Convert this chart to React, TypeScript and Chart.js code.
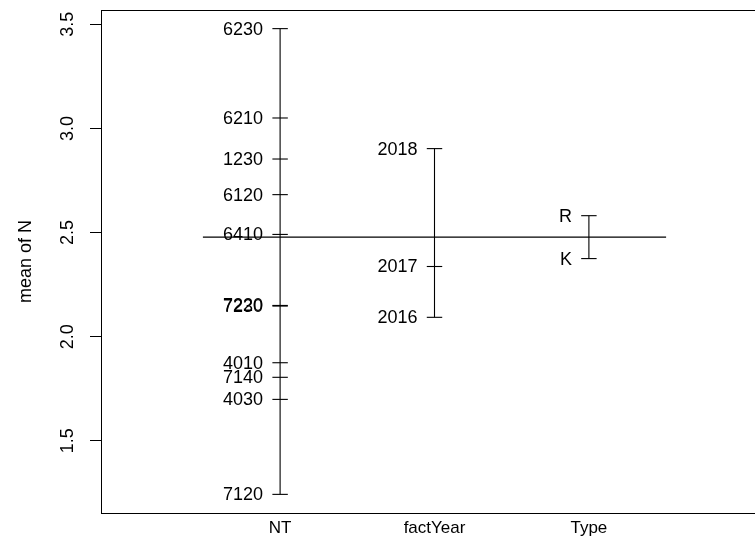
import React, { useEffect, useRef } from "react";
import { Chart, registerables } from "chart.js";

Chart.register(...registerables);

// Factors shown along the x axis
const factorNames = ["NT", "factYear", "Type"];

// Level labels and their means of N, per factor
const ntLevels = ["6230", "6210", "1230", "6120", "6410", "7220", "7230", "4010", "7140", "4030", "7120"];
const ntMeans = [3.479, 3.05, 2.853, 2.682, 2.491, 2.15, 2.147, 1.875, 1.805, 1.699, 1.243];

const yearLevels = ["2018", "2017", "2016"];
const yearMeans = [2.903, 2.337, 2.093];

const typeLevels = ["R", "K"];
const typeMeans = [2.581, 2.375];

const grandMean = 2.478;

// Y axis tick values
const yTickValues = [1.5, 2.0, 2.5, 3.0, 3.5];

const yTitle = "mean of N";

const FONT = "'Liberation Sans', Arial, sans-serif";

export default function App() {
  const ref = useRef<HTMLCanvasElement | null>(null);

  useEffect(() => {
    if (!ref.current) return;
    const groups = [
      { levels: ntLevels, means: ntMeans },
      { levels: yearLevels, means: yearMeans },
      { levels: typeLevels, means: typeMeans },
    ];
    const allVals = [...ntMeans, ...yearMeans, ...typeMeans];
    const dmin = Math.min(...allVals);
    const dmax = Math.max(...allVals);
    const ext = (dmax - dmin) * 0.04;
    const nf = factorNames.length;
    const xlo = 0, xhi = nf + 1;
    const xext = (xhi - xlo) * 0.04;

    const black = "#000000";
    const datasets: any[] = [];
    groups.forEach((g, i) => {
      const x = i + 1;
      datasets.push({
        data: [
          { x, y: Math.max(...g.means) },
          { x, y: Math.min(...g.means) },
        ],
        borderColor: black,
        borderWidth: 1.1,
        pointRadius: 0,
      });
      g.means.forEach((m) => {
        datasets.push({
          data: [
            { x: x - 0.05, y: m },
            { x: x + 0.05, y: m },
          ],
          borderColor: black,
          borderWidth: 1.1,
          pointRadius: 0,
        });
      });
    });
    datasets.push({
      data: [
        { x: 0.5, y: grandMean },
        { x: nf + 0.5, y: grandMean },
      ],
      borderColor: black,
      borderWidth: 1.1,
      pointRadius: 0,
    });

    const labelPlugin = {
      id: "levelLabels",
      afterDatasetsDraw(chart: any) {
        const { ctx, scales } = chart;
        const xs = scales.x;
        const ys = scales.y;
        ctx.save();
        ctx.fillStyle = black;
        ctx.font = `18px ${FONT}`;
        ctx.textAlign = "right";
        ctx.textBaseline = "middle";
        groups.forEach((g, i) => {
          const px = xs.getPixelForValue(i + 1) - 17;
          g.levels.forEach((lab, j) => {
            ctx.fillText(lab, px, ys.getPixelForValue(g.means[j]) + 1);
          });
        });
        // plot box
        const a = chart.chartArea;
        ctx.strokeStyle = black;
        ctx.lineWidth = 1;
        ctx.strokeRect(Math.round(a.left) + 0.5, Math.round(a.top) + 0.5, a.right - a.left, a.bottom - a.top);
        ctx.restore();
      },
    };

    const chart = new Chart(ref.current, {
      type: "line",
      data: { datasets },
      plugins: [labelPlugin],
      options: {
        animation: false,
        responsive: false,
        devicePixelRatio: 1,
        parsing: true,
        layout: { padding: { top: 10, left: 0, right: 0, bottom: 0 } },
        plugins: { legend: { display: false }, tooltip: { enabled: false } },
        scales: {
          x: {
            type: "linear",
            min: xlo - xext,
            max: xhi + xext,
            afterFit: (s: any) => {
              s.height = 25;
              s.paddingLeft = 0;
              s.paddingRight = 0;
            },
            afterBuildTicks: (s: any) => {
              s.ticks = factorNames.map((_, i) => ({ value: i + 1 }));
            },
            grid: { display: false },
            border: { display: false },
            ticks: {
              autoSkip: false,
              maxRotation: 0,
              minRotation: 0,
              padding: -3,
              color: black,
              font: { family: FONT, size: 17 },
              callback: (v: any) => factorNames[Number(v) - 1] ?? "",
            },
          },
          y: {
            type: "linear",
            min: dmin - ext,
            max: dmax + ext,
            afterFit: (s: any) => {
              s.width = 101;
              s.paddingTop = 0;
              s.paddingBottom = 0;
            },
            afterBuildTicks: (s: any) => {
              s.ticks = yTickValues.map((v) => ({ value: v }));
            },
            grid: {
              display: true,
              drawOnChartArea: false,
              drawTicks: true,
              tickLength: 11,
              color: black,
            },
            border: { display: false },
            title: {
              display: true,
              text: yTitle,
              color: black,
              font: { family: FONT, size: 18 },
              padding: { top: 15, bottom: 0 },
            },
            ticks: {
              minRotation: 90,
              maxRotation: 90,
              crossAlign: "center",
              padding: 9,
              color: black,
              font: { family: FONT, size: 18 },
              callback: (v: any) => Number(v).toFixed(1),
            },
          },
        },
      },
    } as any);
    return () => chart.destroy();
  }, []);

  return (
    <div style={{ position: "fixed", left: 0, top: 0, width: 755, height: 538, overflow: "hidden", background: "#fff" }}>
      <canvas ref={ref} width={768} height={538} style={{ display: "block" }} />
    </div>
  );
}
